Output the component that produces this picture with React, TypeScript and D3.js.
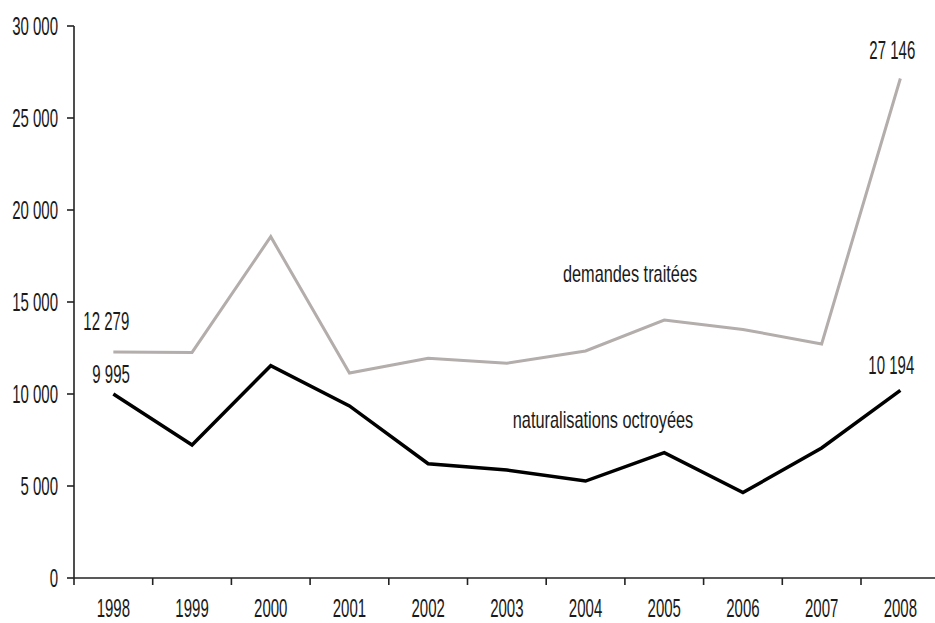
import * as d3 from "d3";

const years = ["1998", "1999", "2000", "2001", "2002", "2003", "2004", "2005", "2006", "2007", "2008"];
const demandes = [12279, 12260, 18550, 11140, 11940, 11670, 12340, 14020, 13510, 12720, 27146];
const naturalisations = [9995, 7230, 11540, 9350, 6210, 5870, 5270, 6810, 4640, 7070, 10194];
const yTicks = [0, 5000, 10000, 15000, 20000, 25000, 30000];

const width = 935;
const height = 623;
const marginLeft = 74;
const marginTop = 26;
const marginBottom = 45;
const bandWidth = 78.7;

const font = "'Liberation Sans', Arial, sans-serif";
const fmt = (v: number) => d3.format(",")(v).replace(/,/g, " ");

// condensed look: scale text horizontally
function Label({ x, y, text, anchor = "start", size = 25, sx = 0.6 }: { x: number; y: number; text: string; anchor?: string; size?: number; sx?: number }) {
  return (
    <text
      transform={`translate(${x},${y}) scale(${sx},1)`}
      textAnchor={anchor}
      fontFamily={font}
      fontSize={size}
      fill="#1a1a1a"
    >
      {text}
    </text>
  );
}

export default function App() {
  const x = d3
    .scaleBand<string>()
    .domain(years)
    .range([marginLeft, marginLeft + bandWidth * years.length]);
  const y = d3
    .scaleLinear()
    .domain([0, 30000])
    .range([height - marginBottom, marginTop]);
  const cx = (yr: string) => (x(yr) as number) + x.bandwidth() / 2;

  const line = d3
    .line<number>()
    .x((_, i) => cx(years[i]))
    .y((d) => y(d));

  const y0 = y(0);
  const last = years[years.length - 1];

  return (
    <svg width={width} height={height} style={{ position: "absolute", left: 0, top: 0, background: "#fff" }}>
      {/* y axis */}
      <line x1={marginLeft} x2={marginLeft} y1={y(30000)} y2={y0} stroke="#222" strokeWidth={1.6} />
      {yTicks.map((t) => (
        <g key={t}>
          <line x1={marginLeft - 7} x2={marginLeft} y1={y(t)} y2={y(t)} stroke="#222" strokeWidth={1.6} />
          <Label x={58} y={y(t) + 9} text={fmt(t)} anchor="end" />
        </g>
      ))}
      {/* x axis */}
      <line x1={marginLeft} x2={width} y1={y0} y2={y0} stroke="#222" strokeWidth={1.6} />
      {years.map((yr) => (
        <g key={yr}>
          <line x1={x(yr)} x2={x(yr)} y1={y0} y2={y0 + 7} stroke="#222" strokeWidth={1.6} />
          <Label x={cx(yr)} y={617} text={yr} anchor="middle" />
        </g>
      ))}

      <path d={line(demandes) ?? ""} fill="none" stroke="#b3adab" strokeWidth={3} strokeLinejoin="miter" />
      <path d={line(naturalisations) ?? ""} fill="none" stroke="#000" strokeWidth={3.5} strokeLinejoin="miter" />

      <Label x={cx(years[0]) - 30} y={y(demandes[0]) - 22} text={fmt(demandes[0])} />
      <Label x={cx(years[0]) - 21} y={y(naturalisations[0]) - 11} text={fmt(naturalisations[0])} />
      <Label x={cx(last) - 31} y={y(demandes[demandes.length - 1]) - 20} text={fmt(demandes[demandes.length - 1])} />
      <Label x={cx(last) - 32} y={y(naturalisations[naturalisations.length - 1]) - 16} text={fmt(naturalisations[naturalisations.length - 1])} />

      <Label x={630} y={282} text="demandes traitées" anchor="middle" size={24} sx={0.68} />
      <Label x={603} y={428} text="naturalisations octroyées" anchor="middle" size={24} sx={0.68} />
    </svg>
  );
}
